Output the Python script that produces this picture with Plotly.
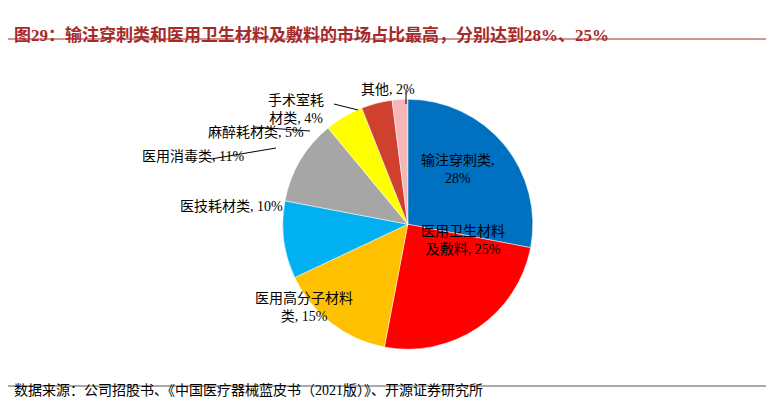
import plotly.graph_objects as go

categories = ["输注穿刺类", "医用卫生材料及敷料", "医用高分子材料类", "医技耗材类", "医用消毒类", "麻醉耗材类", "手术室耗材类", "其他"]
values = [28, 25, 15, 10, 11, 5, 4, 2]
colors = ["#0070C0", "#FF0000", "#FFC000", "#00B0F0", "#A6A6A6", "#FFFF00", "#D0402F", "#F4B6B6"]
label_texts = ["输注穿刺类,<br>28%", "医用卫生材料<br>及敷料, 25%", "医用高分子材料<br>类, 15%", "医技耗材类, 10%",
               "医用消毒类, 11%", "麻醉耗材类, 5%", "手术室耗<br>材类, 4%", "其他, 2%"]

F = "Liberation Serif, Noto Sans CJK SC"
fig = go.Figure(go.Pie(
    labels=categories, values=values, sort=False, direction="clockwise", rotation=0,
    marker=dict(colors=colors, line=dict(color="white", width=0.5)),
    textinfo="none", hoverinfo="label+percent", showlegend=False,
    domain=dict(x=[0.355, 0.678], y=[0.16, 0.78]),
))

pos = [(450, 162), (455, 232), (245, 318), (170, 198), (132, 148), (198, 115), (288, 82), (380, 72)]
leaders = [None, None, None, None, ((203, 151), (268, 140)), ((246, 119), (302, 123)),
           ((326, 96), (350, 102)), ((398, 82), (398, 96))]
ann = []
for t, (x, y), ld in zip(label_texts, pos, leaders):
    ann.append(dict(x=x / 774, y=1 - y / 408, xref="paper", yref="paper", text=t, showarrow=False,
                    font=dict(family=F, size=14, color="black"), align="center"))
    if ld:
        (x0, y0), (x1, y1) = ld
        fig.add_shape(type="line", xref="paper", yref="paper", x0=x0 / 774, y0=1 - y0 / 408,
                      x1=x1 / 774, y1=1 - y1 / 408, line=dict(color="black", width=1))
ann.append(dict(x=0.005, y=1 - 15 / 408, xref="paper", yref="paper", xanchor="left", showarrow=False,
                text="<b>图29：输注穿刺类和医用卫生材料及敷料的市场占比最高，分别达到28%、25%</b>",
                font=dict(family=F, size=17, color="#A52A2A")))
ann.append(dict(x=0.005, y=1 - 392 / 408, xref="paper", yref="paper", xanchor="left", showarrow=False,
                text="数据来源：公司招股书、《中国医疗器械蓝皮书（2021版）》、开源证券研究所",
                font=dict(family=F, size=14, color="black")))
fig.add_shape(type="line", xref="paper", yref="paper", x0=0, x1=1, y0=1 - 31 / 408, y1=1 - 31 / 408,
              line=dict(color="#A52A2A", width=1))
fig.add_shape(type="line", xref="paper", yref="paper", x0=0, x1=1, y0=1 - 378 / 408, y1=1 - 378 / 408,
              line=dict(color="#555555", width=1))
fig.update_layout(width=774, height=408, margin=dict(l=0, r=0, t=0, b=0), annotations=ann,
                  paper_bgcolor="white", plot_bgcolor="white")
fig.write_html("out.html")
